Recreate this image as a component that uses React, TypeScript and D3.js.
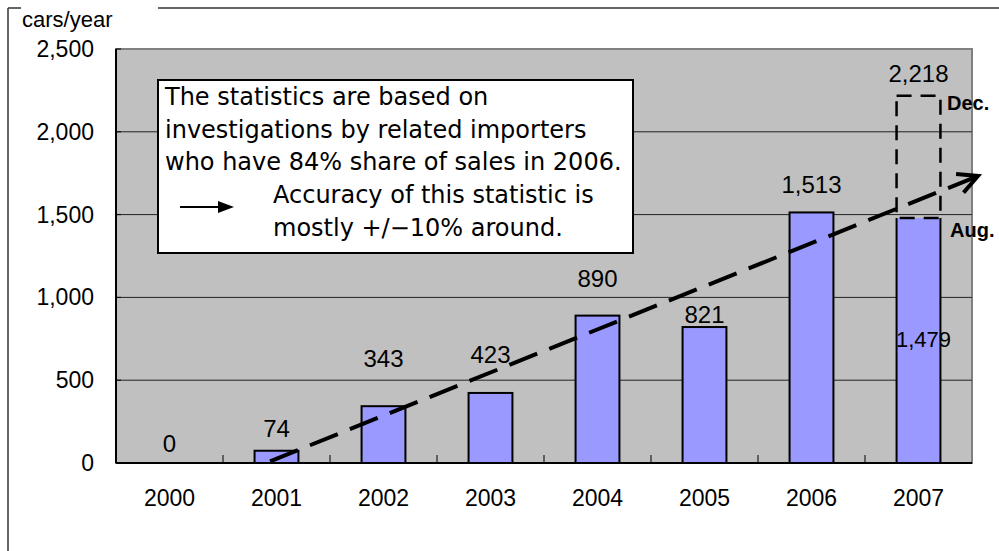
import React from "react";
import * as d3 from "d3";

const years = ["2000", "2001", "2002", "2003", "2004", "2005", "2006", "2007"];
const sales = [0, 74, 343, 423, 890, 821, 1513, 1479];
const forecast2007 = 2218;
const yTicks = [0, 500, 1000, 1500, 2000, 2500];
const yGrid = [500, 1000, 1500, 2000];
// trend arrow, in (category index, value) units
const trendStart: [number, number] = [1.44, 10];
const trendEnd: [number, number] = [8.056, 1733];
const noteLines = [
  "The statistics are based on",
  "investigations by related importers",
  "who have 84% share of sales in 2006.",
];
const noteLines2 = ["Accuracy of this statistic is", "mostly +/\u221210% around."];
// pixel lift of each value label above its bar top (layout)
const labelLift = [11, 14, 39, 30, 29, 4, 19, 14];

const W = 999;
const H = 551;
const L = 116, R = 972, T = 49, B = 463;
const NUM = "'Liberation Sans', Arial, sans-serif";
const TXT = "'DejaVu Sans', sans-serif";

export default function App() {
  const x = d3.scaleBand<string>().domain(years).range([L, R]).paddingInner(0.59).paddingOuter(0.295);
  const xi = d3.scaleLinear().domain([0, years.length]).range([L, R]);
  const y = d3.scaleLinear().domain([0, 2500]).range([B, T]);
  const fmt = d3.format(",");
  const bw = x.bandwidth();

  const tx0 = xi(trendStart[0]), ty0 = y(trendStart[1]);
  const tx1 = xi(trendEnd[0]), ty1 = y(trendEnd[1]);
  const ang = Math.atan2(ty1 - ty0, tx1 - tx0);
  const headLen = 22;
  const headAng = (27 * Math.PI) / 180;
  const hA = [tx1 - headLen * Math.cos(ang - headAng), ty1 - headLen * Math.sin(ang - headAng)];
  const hB = [tx1 - headLen * Math.cos(ang + headAng), ty1 - headLen * Math.sin(ang + headAng)];

  const last = years.length - 1;
  const x7 = x(years[last])!;

  return (
    <svg width={W} height={H} style={{ position: "absolute", left: 0, top: 0, background: "#fff" }}>
      {/* outer frame */}
      <g stroke="#333" strokeWidth={1.5} fill="none">
        <line x1={8} y1={8} x2={21} y2={8} />
        <line x1={158} y1={8} x2={W} y2={8} />
        <line x1={8} y1={8} x2={8} y2={H} />
      </g>
      <text x={22} y={27} fontFamily={NUM} fontSize={22} fill="#000">cars/year</text>

      {/* plot area */}
      <rect x={L} y={T} width={R - L} height={B - T} fill="#C0C0C0" stroke="#808080" strokeWidth={2} />
      {yGrid.map((v) => (
        <line key={v} x1={L} x2={R} y1={y(v)} y2={y(v)} stroke="#222" strokeWidth={1} />
      ))}

      {/* bars */}
      {sales.map((v, i) => {
        const bx = x(years[i])!;
        if (v <= 0) return null;
        if (i === last) {
          return (
            <g key={i}>
              <rect x={bx} y={y(v)} width={bw} height={B - y(v)} fill="#9999FF" />
              <path d={`M${bx},${y(v)}V${B}H${bx + bw}V${y(v)}`} fill="none" stroke="#000" strokeWidth={2} />
            </g>
          );
        }
        return <rect key={i} x={bx} y={y(v)} width={bw} height={B - y(v)} fill="#9999FF" stroke="#000" strokeWidth={2} />;
      })}

      {/* 2007 forecast dashed box */}
      <rect x={x7} y={y(forecast2007)} width={bw} height={y(sales[last]) - y(forecast2007)} fill="none" stroke="#000" strokeWidth={2.5} strokeDasharray="15,9" />

      {/* axes */}
      <line x1={L} x2={L} y1={T} y2={B} stroke="#000" strokeWidth={2} />
      <line x1={L} x2={R} y1={B} y2={B} stroke="#000" strokeWidth={2} />
      {yTicks.map((v) => (
        <g key={v}>
          <line x1={L} x2={L + 5} y1={y(v)} y2={y(v)} stroke="#000" strokeWidth={1} />
          <text x={94} y={y(v) + 8} textAnchor="end" fontFamily={NUM} fontSize={23} fill="#000">
            {fmt(v)}
          </text>
        </g>
      ))}
      {d3.range(1, years.length).map((i) => (
        <line key={i} x1={xi(i)} x2={xi(i)} y1={B} y2={B - 8} stroke="#000" strokeWidth={1} />
      ))}
      {years.map((yr) => (
        <text key={yr} x={x(yr)! + bw / 2} y={506} textAnchor="middle" fontFamily={NUM} fontSize={23} fill="#000">
          {yr}
        </text>
      ))}

      {/* value labels */}
      {sales.map((v, i) => {
        const top = i === last ? y(forecast2007) : y(v);
        const val = i === last ? forecast2007 : v;
        return (
          <text key={i} x={x(years[i])! + bw / 2} y={top - labelLift[i]} textAnchor="middle" fontFamily={NUM} fontSize={24} fill="#000">
            {fmt(val)}
          </text>
        );
      })}
      <text x={x7 + bw / 2 + 5} y={347} textAnchor="middle" fontFamily={NUM} fontSize={22} fill="#000">
        {fmt(sales[last])}
      </text>
      <text x={947} y={110} fontFamily={NUM} fontWeight="bold" fontSize={20} fill="#000">Dec.</text>
      <text x={950} y={237} fontFamily={NUM} fontWeight="bold" fontSize={20} fill="#000">Aug.</text>

      {/* trend arrow */}
      <line x1={tx0} y1={ty0} x2={tx1} y2={ty1} stroke="#000" strokeWidth={4} strokeDasharray="30,13" />
      <polyline points={`${hA[0]},${hA[1]} ${tx1},${ty1} ${hB[0]},${hB[1]}`} fill="none" stroke="#000" strokeWidth={4} />

      {/* note box */}
      <rect x={158} y={80} width={475} height={173} fill="#fff" stroke="#000" strokeWidth={2} />
      {noteLines.map((t, i) => (
        <text key={i} x={165} y={105 + i * 32.5} fontFamily={TXT} fontSize={24} fill="#000">{t}</text>
      ))}
      {noteLines2.map((t, i) => (
        <text key={i} x={273} y={203 + i * 32.5} fontFamily={TXT} fontSize={24} fill="#000">{t}</text>
      ))}
      <line x1={180} y1={207} x2={220} y2={207} stroke="#000" strokeWidth={2} />
      <path d="M218,201 L234,207 L218,213 Z" fill="#000" />
    </svg>
  );
}
